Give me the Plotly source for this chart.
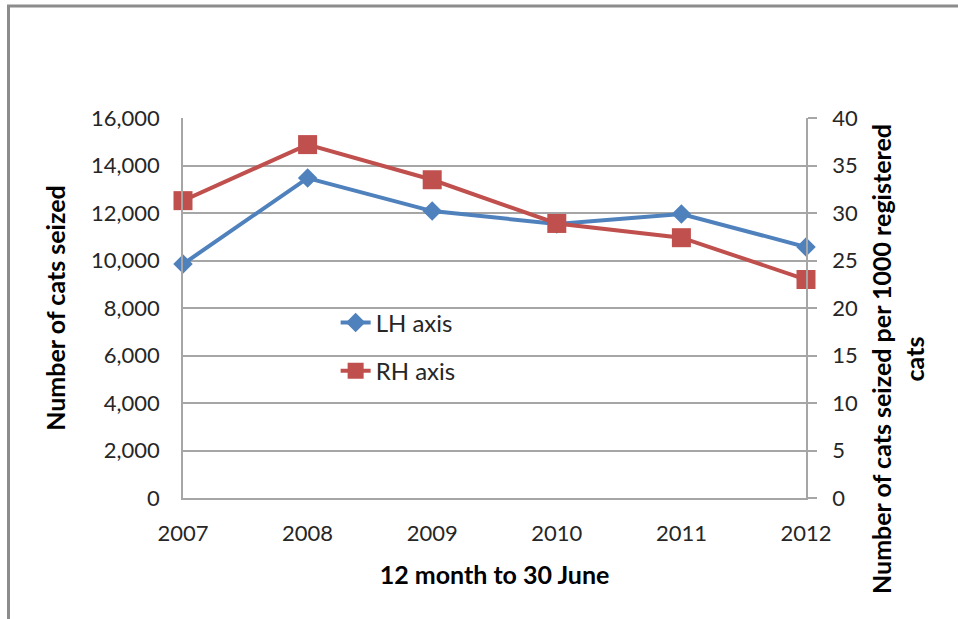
import plotly.graph_objects as go

years = [2007, 2008, 2009, 2010, 2011, 2012]
lh_cats_seized = [9850, 13470, 12080, 11540, 11960, 10570]
rh_per_1000 = [31.3, 37.2, 33.5, 28.9, 27.4, 23.0]
left_ticks = [0, 2000, 4000, 6000, 8000, 10000, 12000, 14000, 16000]
right_ticks = [0, 5, 10, 15, 20, 25, 30, 35, 40]

BLUE = "#4F81BD"
RED = "#C0504D"
GRID = "#A6A6A6"
FONT = "Lato"

fig = go.Figure()
fig.add_trace(go.Scatter(
    x=years, y=lh_cats_seized, name="LH axis", mode="lines+markers",
    line=dict(color=BLUE, width=4), marker=dict(symbol="diamond", size=15, color=BLUE),
    cliponaxis=False, legendgroup="a", yaxis="y"))
fig.add_trace(go.Scatter(
    x=years, y=rh_per_1000, name="RH axis", mode="lines+markers",
    line=dict(color=RED, width=4), marker=dict(symbol="square", size=19, color=RED),
    cliponaxis=False, legendgroup="b", yaxis="y2"))

tickfont = dict(family=FONT, size=22, color="#262626")
titlefont = dict(family=FONT, size=25, color="black", weight="bold")

fig.update_layout(
    width=958, height=619,
    margin=dict(l=183, r=152, t=118, b=121),
    paper_bgcolor="white", plot_bgcolor="white",
    font=dict(family=FONT),
    showlegend=True,
    legend=dict(x=0.245, y=0.52, xanchor="left", yanchor="top",
                font=dict(family=FONT, size=24, color="#262626"),
                bgcolor="rgba(0,0,0,0)", tracegroupgap=14, traceorder="grouped"),
    xaxis=dict(range=[2007, 2012], tickvals=years, ticktext=[str(y) for y in years],
               showgrid=False, zeroline=False, showline=True, linecolor=GRID, linewidth=1.5,
               ticks="", tickfont=tickfont, ticklabelstandoff=15,
               title=dict(text="12 month to 30 June", font=titlefont, standoff=21)),
    yaxis=dict(range=[0, 16000], tickvals=left_ticks, tickformat=",d",
               showgrid=True, gridcolor=GRID, gridwidth=1.5, zeroline=False,
               showline=True, linecolor=GRID, linewidth=1.5, ticks="",
               tickfont=tickfont, ticklabelstandoff=17,
               title=dict(text="Number of cats seized", font=titlefont, standoff=18)),
    yaxis2=dict(range=[0, 40], tickvals=right_ticks, overlaying="y", side="right",
                showgrid=False, zeroline=False, showline=True, linecolor=GRID, linewidth=1.5,
                ticks="outside", ticklen=9, tickcolor=GRID, tickwidth=1.5,
                tickfont=tickfont, ticklabelstandoff=11),
)

fig.add_annotation(
    text="Number of cats seized per 1000 registered<br>cats",
    xref="paper", yref="paper", x=(897 - 183) / 623, y=(498 - 359) / 380,
    xanchor="center", yanchor="middle", textangle=-90, showarrow=False,
    font=titlefont, align="center")

fig.add_shape(type="rect", xref="paper", yref="paper",
              x0=(8.5 - 183) / 623, x1=(975 - 183) / 623,
              y0=(498 - 640) / 380, y1=(498 - 6) / 380,
              line=dict(color="#8C8C8C", width=3), fillcolor="rgba(0,0,0,0)", layer="below")

fig.write_html("out.html", config={"displayModeBar": False},
               post_script="document.body.style.margin='0';document.body.style.overflow='hidden';")
